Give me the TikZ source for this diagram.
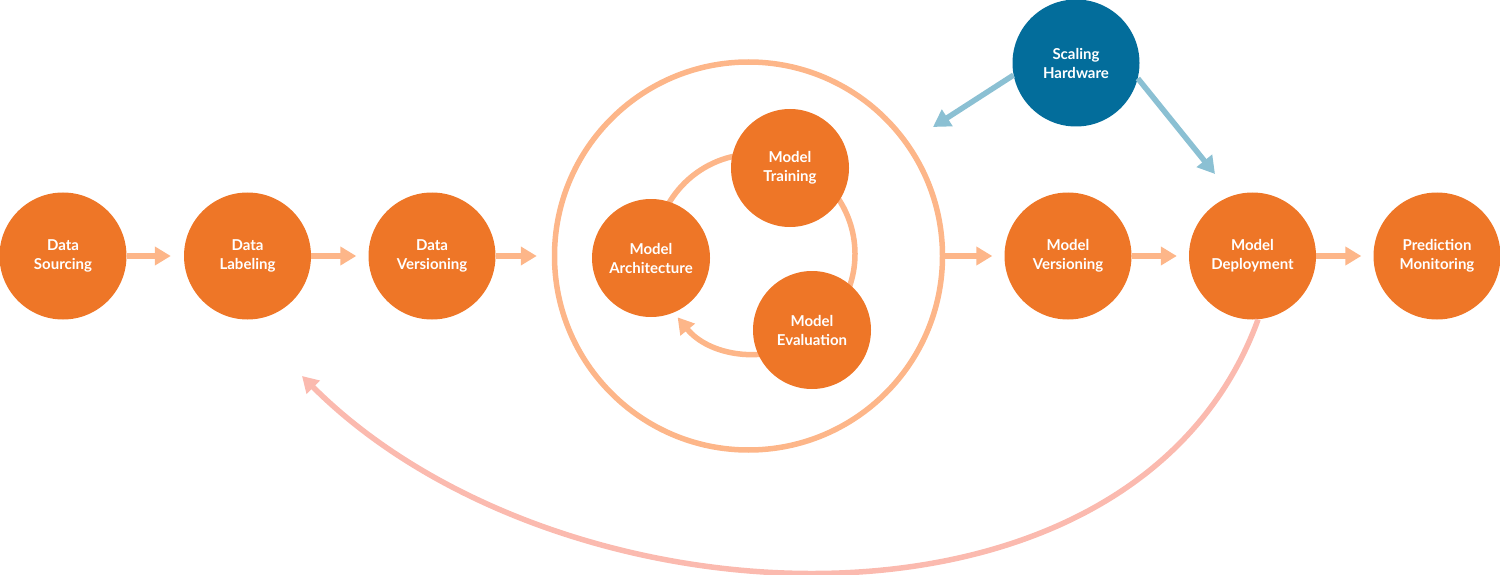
\documentclass[tikz,border=0pt]{standalone}
\usepackage{fontspec}
\setmainfont{Lato}
\usetikzlibrary{arrows.meta,positioning,backgrounds}
\definecolor{stageorange}{HTML}{EE7627}
\definecolor{flowpeach}{HTML}{FDB689}
\definecolor{hwblue}{HTML}{036D9B}
\definecolor{hwlight}{HTML}{8BC0D3}
\definecolor{backpink}{HTML}{FBBAAF}

\begin{document}
\begin{tikzpicture}[x=1pt,y=1pt,-,node distance=184.5pt]
  \tikzstyle{stage}=[circle, fill=stageorange, text=white, minimum size=127pt, inner sep=0pt, align=center, font=\fontsize{15}{19}\selectfont\bfseries]
  \tikzstyle{substage}=[stage, minimum size=118pt]
  \tikzstyle{flow}=[draw=flowpeach, line width=5.5pt, -{Triangle[length=16pt,width=18pt]}]
  \tikzstyle{hwflow}=[draw=hwlight, line width=5.5pt, -{Triangle[length=17pt,width=19pt]}]
  \useasboundingbox (0,0) rectangle (1500,-575);

  \node[stage] (src) at (63,-256) {Data\\Sourcing};
  \node[stage] (lab) [right of=src] {Data\\Labeling};
  \node[stage] (ver) [right of=lab] {Data\\Versioning};
  \node[circle, draw=flowpeach, line width=5.5pt, minimum size=388pt, inner sep=0pt] (loop) at (748.5,-256) {};
  \node[stage] (mver) at (1068,-256) {Model\\Versioning};
  \node[stage] (dep) [right of=mver] {Model\\Deployment};
  \node[stage] (mon) [right of=dep] {Prediction\\Monitoring};

  \coordinate (ringc) at (755,-254);
  \node[substage] (arch) at (651,-258) {Model\\Architecture};
  \node[substage] (train) at (790,-168) {Model\\Training};
  \node[substage] (eval) at (812,-330) {Model\\Evaluation};

  \node[stage, fill=hwblue] (hw) at (1076,-63) {Scaling\\Hardware};
  \coordinate (hwA) at (933,-127);
  \coordinate (hwB) at (1215,-174);
  \coordinate (back) at (302,-376);

  \begin{scope}[on background layer]
    \draw[draw=flowpeach, line width=5.5pt] (ringc) ++(182:100) arc[start angle=182, end angle=-53, radius=100];
    \draw[flow] (ringc) ++(-60:100) arc[start angle=-60, end angle=-140.7, radius=100];
  \end{scope}

  \draw[flow, shorten >=13pt] (src) -- (lab);
  \draw[flow, shorten >=12pt] (lab) -- (ver);
  \draw[flow, shorten >=15pt] (ver) -- (loop);
  \draw[flow, shorten >=12pt] (loop) -- (mver);
  \draw[flow, shorten >=12pt] (mver) -- (dep);
  \draw[flow, shorten >=12pt] (dep) -- (mon);

  \draw[hwflow] (hw.191) -- (hwA);
  \draw[hwflow] (hw.-14) -- (hwB);

  \draw[draw=backpink, line width=5.5pt, -{Triangle[length=16pt,width=18pt]}] (dep.-85) to[out=-110, in=-45, looseness=0.97] (back);
\end{tikzpicture}
\end{document}
